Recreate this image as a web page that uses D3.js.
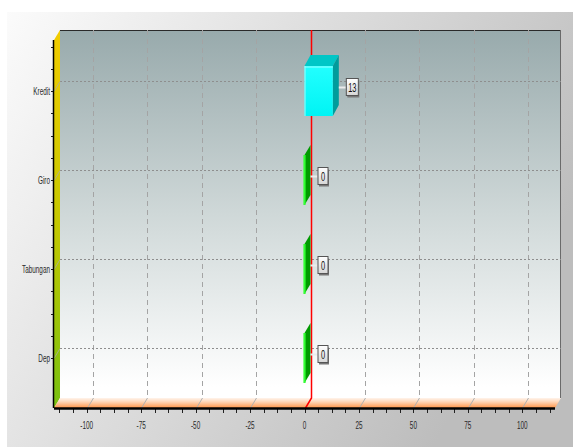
<!DOCTYPE html>
<html><head><meta charset="utf-8">
<script src="https://cdn.jsdelivr.net/npm/d3@7"></script>
<style>html,body{margin:0;padding:0;background:#fff;}svg{display:block;}</style>
</head><body>
<script>
const categories = ["Kredit", "Giro", "Tabungan", "Dep"];
const values = [13, 0, 0, 0];
const xTicks = [-100, -75, -50, -25, 0, 25, 50, 75, 100];
const xDomain = [-115, 115];

const W = 573, H = 447;
const DX = 6, DY = -10;
const front = {left: 54, right: 555, top: 40, bottom: 408};

const svg = d3.select("body").append("svg").attr("width", W).attr("height", H);
const defs = svg.append("defs");

function lin(id, stops, x1, y1, x2, y2) {
  const g = defs.append("linearGradient").attr("id", id)
    .attr("x1", x1).attr("y1", y1).attr("x2", x2).attr("y2", y2);
  stops.forEach(s => g.append("stop").attr("offset", s[0]).attr("stop-color", s[1]));
}
lin("panel", [[0, "#fbfbfb"], [1, "#bdbdbd"]], 0, 0, 1, 0.45);
lin("wall", [[0, "#98aaac"], [0.5, "#cfd8d8"], [0.97, "#ffffff"], [1, "#ffffff"]], 0, 0, 0, 1);
lin("lwall", [[0, "#f2cc00"], [0.5, "#c6c800"], [1, "#78c010"]], 0, 0, 0, 1);
lin("floor", [[0, "#fff4ec"], [0.4, "#ffd4b4"], [1, "#ff9448"]], 0, 0, 0, 1);
lin("cyanFront", [[0, "#22ffff"], [1, "#00f4f4"]], 0, 0, 0, 1);
lin("box", [[0, "#ffffff"], [1, "#d6d6d6"]], 0, 0, 0, 1);

const x = d3.scaleLinear().domain(xDomain).range([front.left, front.right]);
const y = d3.scalePoint().domain(categories).range([91, 358]);
const barH = 50;

// panel
svg.append("rect").attr("x", 7).attr("y", 12).attr("width", W - 7).attr("height", H - 12)
  .attr("fill", "url(#panel)");

// back wall
svg.append("rect").attr("x", front.left + DX).attr("y", front.top + DY)
  .attr("width", front.right - front.left).attr("height", front.bottom - front.top)
  .attr("fill", "url(#wall)");
// left wall
svg.append("path").attr("d", d3.line()([[front.left, front.top], [front.left + DX, front.top + DY],
  [front.left + DX, front.bottom + DY], [front.left, front.bottom]]) + "Z").attr("fill", "url(#lwall)");
// floor
svg.append("path").attr("d", d3.line()([[front.left, front.bottom], [front.left + DX, front.bottom + DY],
  [front.right + DX, front.bottom + DY], [front.right, front.bottom]]) + "Z").attr("fill", "url(#floor)");

// wall borders
svg.append("line").attr("x1", front.left + DX).attr("x2", front.right + DX)
  .attr("y1", front.top + DY + 0.5).attr("y2", front.top + DY + 0.5).attr("stroke", "#2a2a2a").attr("stroke-width", 1);
svg.append("line").attr("x1", front.right + DX - 0.5).attr("x2", front.right + DX - 0.5)
  .attr("y1", front.top + DY).attr("y2", front.bottom + DY).attr("stroke", "#6a6a6a").attr("stroke-width", 1);

// vertical grid
const gv = svg.append("g");
xTicks.forEach(t => {
  const px = Math.round(x(t)) + 0.5;
  if (t === 0) return;
  gv.append("line").attr("x1", px + DX).attr("x2", px + DX).attr("y1", front.top + DY).attr("y2", front.bottom + DY)
    .attr("stroke", "#a4a4a4").attr("stroke-dasharray", "5,4");
  gv.append("line").attr("x1", px + DX).attr("x2", px).attr("y1", front.bottom + DY).attr("y2", front.bottom)
    .attr("stroke", "#b0b0b0");
});
// horizontal grid
categories.forEach(c => {
  const py = Math.round(y(c)) + 0.5;
  gv.append("line").attr("x1", front.left + DX).attr("x2", front.right + DX).attr("y1", py + DY).attr("y2", py + DY)
    .attr("stroke", "#8e8e8e").attr("stroke-dasharray", "2,2");
  gv.append("line").attr("x1", front.left).attr("x2", front.left + DX).attr("y1", py).attr("y2", py + DY)
    .attr("stroke", "#aaa").attr("stroke-width", 0.8);
});

// zero line
const z = Math.round(x(0)) + 0.5;
svg.append("path").attr("d", d3.line()([[z + DX, front.top + DY], [z + DX, front.bottom + DY], [z, front.bottom]]))
  .attr("fill", "none").attr("stroke", "#ff0000").attr("stroke-width", 1.5);

// bars
const bars = svg.append("g");
categories.forEach((c, i) => {
  const v = values[i];
  const x0 = x(0), x1 = x(v);
  const yt = y(c) - barH / 2, yb = y(c) + barH / 2;
  if (v > 0) {
    bars.append("path").attr("d", d3.line()([[x0, yt], [x0 + DX, yt + DY - 1], [x1 + DX, yt + DY - 1], [x1, yt]]) + "Z")
      .attr("fill", "#00c6c6");
    bars.append("path").attr("d", d3.line()([[x1, yt], [x1 + DX, yt + DY - 1], [x1 + DX, yb + DY - 1], [x1, yb]]) + "Z")
      .attr("fill", "#009c9c");
    bars.append("rect").attr("x", x0).attr("y", yt).attr("width", x1 - x0).attr("height", barH)
      .attr("fill", "url(#cyanFront)");
    bars.append("line").attr("x1", x0 + 0.5).attr("x2", x0 + 0.5).attr("y1", yt).attr("y2", yb).attr("stroke", "#9affff");
    bars.append("line").attr("x1", x0).attr("x2", x1).attr("y1", yt + 1).attr("y2", yt + 1).attr("stroke", "#9affff");
  } else {
    bars.append("path").attr("d", d3.line()([[x1, yt], [x1 + DX, yt + DY], [x1 + DX, yb + DY], [x1, yb]]) + "Z")
      .attr("fill", "#009a00");
    bars.append("line").attr("x1", x1).attr("x2", x1).attr("y1", yt).attr("y2", yb)
      .attr("stroke", "#33ff33").attr("stroke-width", 2.2);
  }
});

// value labels
const labs = svg.append("g");
categories.forEach((c, i) => {
  const v = values[i];
  const xr = x(v) + DX;
  const cy = y(c) - 4;
  const txt = String(v);
  const bw = txt.length > 1 ? 12 : 10;
  const bx = x(v) + 13;
  labs.append("line").attr("x1", xr).attr("x2", bx).attr("y1", cy + 0.5).attr("y2", cy + 0.5)
    .attr("stroke", "#ececec").attr("stroke-width", 2);
  labs.append("rect").attr("x", bx + 1.5).attr("y", cy - 8 + 1.5).attr("width", bw).attr("height", 17)
    .attr("fill", "#777");
  labs.append("rect").attr("x", bx + 0.5).attr("y", cy - 8.5).attr("width", bw).attr("height", 17)
    .attr("fill", "url(#box)").attr("stroke", "#555");
  labs.append("text").attr("transform", `translate(${bx + 0.5 + bw / 2},${cy + 4.5}) scale(0.62,1)`)
    .attr("text-anchor", "middle").attr("font-family", "Liberation Sans, Arial, sans-serif")
    .attr("font-size", 12).attr("fill", "#111").text(txt);
});

// bottom axis
const minor = d3.range(-112.5, 112.5 + 0.01, 6.25);
const ax = svg.append("g");
minor.forEach(t => {
  const px = Math.round(x(t)) + 0.5;
  ax.append("line").attr("x1", px).attr("x2", px).attr("y1", front.bottom).attr("y2", front.bottom + 5)
    .attr("stroke", "#222");
});
ax.append("line").attr("x1", front.left).attr("x2", front.right).attr("y1", front.bottom + 0.5).attr("y2", front.bottom + 0.5)
  .attr("stroke", "#000").attr("stroke-width", 2.5);
xTicks.forEach(t => {
  ax.append("text").attr("transform", `translate(${x(t)},${429}) scale(0.58,1)`)
    .attr("text-anchor", "middle").attr("font-family", "Liberation Sans, Arial, sans-serif")
    .attr("font-size", 11).attr("fill", "#2a2a2a").text(String(t));
});

// left axis
const ay = svg.append("g");
const step = y.step() / 4;
const yTickPos = d3.range(-8, 13).map(k => y(categories[0]) + k * step).filter(p => p >= front.top + 4 && p <= front.bottom - 2);
yTickPos.forEach(p => {
  const py = Math.round(p) + 0.5;
  ay.append("line").attr("x1", front.left - 3).attr("x2", front.left).attr("y1", py).attr("y2", py).attr("stroke", "#222");
});
ay.append("line").attr("x1", front.left - 0.5).attr("x2", front.left - 0.5).attr("y1", front.top).attr("y2", front.bottom)
  .attr("stroke", "#000").attr("stroke-width", 1.5);
categories.forEach(c => {
  ay.append("text").attr("transform", `translate(${front.left - 4},${y(c) + 4}) scale(0.58,1)`)
    .attr("text-anchor", "end").attr("font-family", "Liberation Sans, Arial, sans-serif")
    .attr("font-size", 11).attr("fill", "#2a2a2a").text(c);
});
</script>
</body></html>
